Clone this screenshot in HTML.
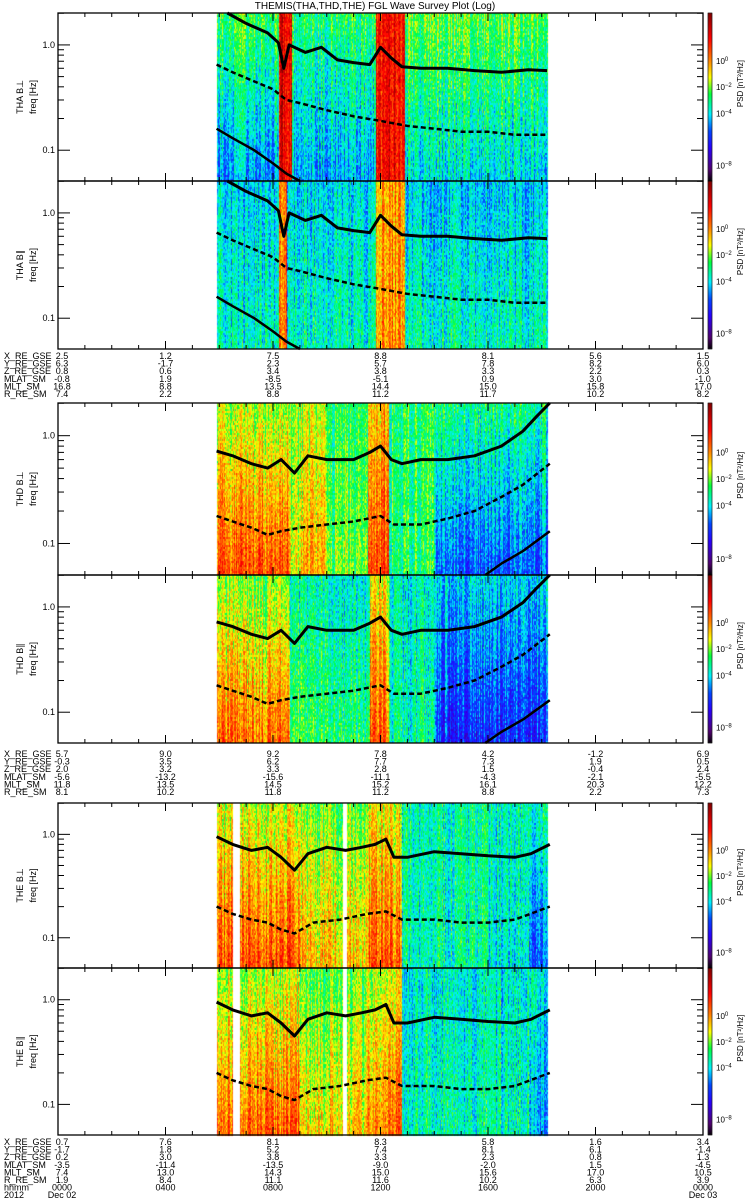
<!DOCTYPE html>
<html><head><meta charset="utf-8">
<style>
html,body{margin:0;padding:0;background:#fff;}
#wrap{position:relative;width:750px;height:1200px;overflow:hidden;}
canvas{position:absolute;left:0;top:0;}
svg{position:absolute;left:0;top:0;}
text{font-family:"Liberation Sans",sans-serif;font-size:9px;fill:#000;}
</style></head>
<body>
<div id="wrap">
<canvas id="spec" width="750" height="1200"></canvas>
<svg id="svg" width="750" height="1200" xmlns="http://www.w3.org/2000/svg">
<text x="375" y="9" text-anchor="middle" style="font-size:10px">THEMIS(THA,THD,THE) FGL Wave Survey Plot (Log)</text>
</svg>
</div>
<script>
// ---- data: spectrogram level segments (hours, level high-freq, level low-freq) ----
const THA_perp_hours=[5.92,8.2,8.7,11.8,12.9];
const THA_perp_hi=[0.52,0.88,0.5,0.85,0.54];
const THA_perp_lo=[0.34,0.88,0.36,0.85,0.4];
const THA_par_hours=[5.92,8.2,8.5,11.8,12.9];
const THA_par_hi=[0.4,0.75,0.4,0.7,0.38];
const THA_par_lo=[0.45,0.75,0.45,0.72,0.45];
const THD_perp_hours=[5.92,8.6,9.0,10.0,11.5,12.3,14.0];
const THD_perp_hi=[0.58,0.55,0.58,0.5,0.68,0.5,0.48];
const THD_perp_lo=[0.78,0.6,0.68,0.55,0.8,0.5,0.3];
const THD_par_hours=[5.92,8.6,10.0,11.6,12.3,14.0];
const THD_par_hi=[0.55,0.45,0.42,0.62,0.42,0.4];
const THD_par_lo=[0.74,0.52,0.5,0.76,0.45,0.25];
const THE_perp_hours=[5.92,9.0,11.5,12.8,16.0,17.5];
const THE_perp_hi=[0.6,0.55,0.62,0.45,0.45,0.45];
const THE_perp_lo=[0.78,0.68,0.76,0.45,0.42,0.3];
const THE_par_hours=[5.92,9.0,11.5,12.8,17.5];
const THE_par_hi=[0.58,0.54,0.6,0.42,0.42];
const THE_par_lo=[0.76,0.66,0.74,0.45,0.35];
const dataStart=5.92, dataEnd=18.23;
const THE_gapStart=[6.5,10.6];
const THE_gapEnd=[6.77,10.72];

// ---- data: characteristic frequency curves (hours, Hz) ----
const THA_solid_t=[6.3,7.0,7.8,8.2,8.4,8.6,9.2,9.8,10.4,11.0,11.6,12.0,12.4,12.8,13.5,14.5,15.5,16.5,17.5,18.2];
const THA_solid_f=[2.1,1.6,1.3,1.05,0.6,1.0,0.85,0.95,0.72,0.68,0.65,0.95,0.75,0.62,0.6,0.6,0.57,0.55,0.58,0.57];
const THA_dash_t=[5.9,6.5,7.3,8.0,8.5,9.0,10.0,11.0,12.0,13.0,14.0,15.0,16.0,17.0,18.2];
const THA_dash_f=[0.65,0.55,0.45,0.38,0.3,0.28,0.24,0.21,0.19,0.17,0.16,0.15,0.15,0.14,0.14];
const THA_low_t=[5.9,6.5,7.3,8.0,8.5,9.0];
const THA_low_f=[0.16,0.13,0.1,0.075,0.06,0.05];
const THD_solid_t=[5.9,6.5,7.2,7.8,8.3,8.8,9.3,10.0,11.0,11.6,12.0,12.4,12.8,13.5,14.5,15.5,16.5,17.3,17.8,18.3];
const THD_solid_f=[0.72,0.65,0.55,0.5,0.6,0.45,0.65,0.6,0.6,0.7,0.8,0.6,0.55,0.6,0.6,0.65,0.8,1.1,1.5,2.1];
const THD_dash_t=[5.9,6.5,7.2,7.8,8.3,9.0,10.0,11.0,12.0,12.5,13.5,14.5,15.5,16.5,17.3,18.3];
const THD_dash_f=[0.18,0.16,0.14,0.12,0.13,0.14,0.15,0.16,0.18,0.15,0.15,0.17,0.2,0.27,0.35,0.55];
const THD_low_t=[15.9,16.5,17.3,18.3];
const THD_low_f=[0.05,0.065,0.085,0.13];
const THE_solid_t=[5.9,6.5,7.2,7.8,8.3,8.8,9.3,10.0,10.7,11.3,11.8,12.2,12.5,13.0,14.0,15.0,16.0,17.0,17.6,18.3];
const THE_solid_f=[0.95,0.8,0.7,0.75,0.6,0.45,0.65,0.75,0.7,0.75,0.8,0.9,0.6,0.6,0.68,0.65,0.62,0.6,0.65,0.8];
const THE_dash_t=[5.9,6.5,7.2,7.8,8.3,8.8,9.5,10.5,11.5,12.2,12.8,14.0,15.0,16.0,17.0,18.3];
const THE_dash_f=[0.2,0.17,0.15,0.14,0.12,0.11,0.14,0.15,0.17,0.18,0.15,0.15,0.14,0.14,0.15,0.2];

// ---- data: orbit text ----
const rowNames=["X_RE_GSE","Y_RE_GSE","Z_RE_GSE","MLAT_SM","MLT_SM","R_RE_SM"];
const THA_rows=[["2.5","1.2","7.5","8.8","8.1","5.6","1.5"],["6.3","-1.7","2.3","5.7","7.8","8.2","6.0"],["0.8","0.6","3.4","3.8","3.3","2.2","0.3"],["-0.8","1.9","-8.5","-5.1","0.9","3.0","-1.0"],["16.8","8.8","13.5","14.4","15.0","15.8","17.0"],["7.4","2.2","8.8","11.2","11.7","10.2","8.2"]];
const THD_rows=[["5.7","9.0","9.2","7.8","4.2","-1.2","6.9"],["-0.3","3.5","6.2","7.7","7.3","1.9","0.5"],["2.0","3.2","3.3","2.8","1.5","-0.4","2.4"],["-5.6","-13.2","-15.6","-11.1","-4.3","-2.1","-5.5"],["11.8","13.5","14.5","15.2","16.1","20.3","12.2"],["8.1","10.2","11.8","11.2","8.8","2.2","7.3"]];
const THE_rows=[["0.7","7.6","8.1","8.3","5.8","1.6","3.4"],["-1.7","1.8","5.2","7.4","8.1","6.1","-1.4"],["0.2","3.0","3.8","3.3","2.3","0.8","1.3"],["-3.5","-11.4","-13.5","-9.0","-2.0","1.5","-4.5"],["7.4","13.0","14.3","15.0","15.6","17.0","10.5"],["1.9","8.4","11.1","11.6","10.2","6.3","3.9"],["0000","0400","0800","1200","1600","2000","0000"]];
const cbExponents=[0,-2,-4,-8];

// ---- layout ----
const X0=58, X1=703, FMAX=2.01, FMIN=0.051;
function xOf(h){return X0+h*(X1-X0)/24;}
function yOf(f,p){return p.top+(Math.log10(FMAX)-Math.log10(f))/(Math.log10(FMAX)-Math.log10(FMIN))*(p.bot-p.top);}
const panels=[
 {label:"THA B⊥",top:13,bot:181,hours:THA_perp_hours,hi:THA_perp_hi,lo:THA_perp_lo,grp:"THA"},
 {label:"THA B∥",top:181,bot:349,hours:THA_par_hours,hi:THA_par_hi,lo:THA_par_lo,grp:"THA"},
 {label:"THD B⊥",top:403,bot:575,hours:THD_perp_hours,hi:THD_perp_hi,lo:THD_perp_lo,grp:"THD"},
 {label:"THD B∥",top:575,bot:743,hours:THD_par_hours,hi:THD_par_hi,lo:THD_par_lo,grp:"THD"},
 {label:"THE B⊥",top:803,bot:968,hours:THE_perp_hours,hi:THE_perp_hi,lo:THE_perp_lo,grp:"THE"},
 {label:"THE B∥",top:968,bot:1135,hours:THE_par_hours,hi:THE_par_hi,lo:THE_par_lo,grp:"THE"}
];
const curves={
 THA:[[THA_solid_t,THA_solid_f,"solid"],[THA_dash_t,THA_dash_f,"dash"],[THA_low_t,THA_low_f,"solid"]],
 THD:[[THD_solid_t,THD_solid_f,"solid"],[THD_dash_t,THD_dash_f,"dash"],[THD_low_t,THD_low_f,"solid"]],
 THE:[[THE_solid_t,THE_solid_f,"solid"],[THE_dash_t,THE_dash_f,"dash"]]
};

const stops=[[0,[0,0,0]],[0.07,[80,0,110]],[0.2,[40,0,255]],[0.3,[0,70,255]],[0.4,[0,240,255]],[0.52,[0,255,60]],[0.62,[255,255,0]],[0.72,[255,130,0]],[0.85,[255,0,0]],[1,[130,0,0]]];
function cmap(v){v=Math.max(0,Math.min(1,v));for(let i=1;i<stops.length;i++){if(v<=stops[i][0]){const a=stops[i-1],b=stops[i],t=(v-a[0])/(b[0]-a[0]);return [0,1,2].map(k=>Math.round(a[1][k]+(b[1][k]-a[1][k])*t));}}return stops[stops.length-1][1];}
function hash(a,b){let h=(a*374761393+b*668265263)|0;h=(h^(h>>>13))*1274126177|0;return ((h^(h>>>16))>>>0)/4294967296;}

const ctx=document.getElementById('spec').getContext('2d');
panels.forEach((p,pi)=>{
  const xs=Math.round(xOf(dataStart)), xe=Math.round(xOf(dataEnd));
  for(let x=xs;x<xe;x++){
    const h=(x-X0)*24/(X1-X0);
    if(p.grp==="THE"){let gap=false;for(let g=0;g<THE_gapStart.length;g++){if(h>=THE_gapStart[g]&&h<=THE_gapEnd[g])gap=true;}if(gap)continue;}
    let s=0;for(let i=0;i<p.hours.length;i++){if(h>=p.hours[i])s=i;}
    const colN=(hash(x,pi*7+1)-0.5)*0.16;
    for(let y=p.top;y<p.bot;y+=2){
      const fr=(y-p.top)/(p.bot-p.top);
      let v=p.hi[s]+(p.lo[s]-p.hi[s])*fr+colN+(hash(x*3+pi,y)-0.5)*0.14;
      const c=cmap(v);
      ctx.fillStyle="rgb("+c[0]+","+c[1]+","+c[2]+")";
      ctx.fillRect(x,y,1,2);
    }
  }
  for(let y=p.top;y<p.bot;y++){const c=cmap(1-(y-p.top)/(p.bot-p.top));ctx.fillStyle="rgb("+c[0]+","+c[1]+","+c[2]+")";ctx.fillRect(708,y,4,1);}
});

const svg=document.getElementById('svg');
const NS="http://www.w3.org/2000/svg";
function mk(tag,attrs,parent){const e=document.createElementNS(NS,tag);for(const k in attrs)e.setAttribute(k,attrs[k]);(parent||svg).appendChild(e);return e;}

panels.forEach((p,pi)=>{
  const g=mk('g',{});
  
  
  curves[p.grp].forEach((cv,ci)=>{
    let d="";
    for(let i=0;i<cv[0].length;i++){const x=xOf(cv[0][i]);let y=yOf(cv[1][i],p);y=Math.max(p.top,Math.min(p.bot,y));d+=(i?"L":"M")+x.toFixed(1)+","+y.toFixed(1);}
    const path=mk('path',{d:d,fill:"none",stroke:"#000","stroke-width":cv[2]==="solid"?(ci===0?3:2.5):2.5,"stroke-dasharray":cv[2]==="dash"?"5 3":"none","stroke-linejoin":"round"},g);
    
    
  });
  const fr=mk('rect',{x:X0,y:p.top,width:X1-X0,height:p.bot-p.top,fill:"none",stroke:"#000","stroke-width":1.3},g);
  
  
  for(let k=0;k<=24;k++){const x=xOf(k);const L=(k%4===0)?8:4;
    mk('line',{x1:x,y1:p.bot,x2:x,y2:p.bot-L,stroke:"#000","stroke-width":1},g);
    mk('line',{x1:x,y1:p.top,x2:x,y2:p.top+L,stroke:"#000","stroke-width":1},g);}
  [0.1,1].forEach(dec=>{for(let m=1;m<=9;m++){const f=dec*m;if(f<FMIN||f>FMAX)continue;const y=yOf(f,p);const L=m===1?12:6;
    mk('line',{x1:X0,y1:y,x2:X0+L,y2:y,stroke:"#000","stroke-width":1},g);
    mk('line',{x1:X1,y1:y,x2:X1-L,y2:y,stroke:"#000","stroke-width":1},g);}
    const t=mk('text',{x:55,y:yOf(dec,p)+3,"text-anchor":"end"},g);t.textContent=dec===1?"1.0":"0.1";
    
    });
  const cy=(p.top+p.bot)/2;
  const t1=mk('text',{x:0,y:0,"text-anchor":"middle",transform:"translate(23,"+cy+") rotate(-90)"},g);t1.textContent=p.label;
  
  
  const t2=mk('text',{x:0,y:0,"text-anchor":"middle",transform:"translate(36,"+cy+") rotate(-90)"},g);t2.textContent="freq [Hz]";
  
  
  const cb=mk('rect',{x:708,y:p.top,width:4,height:p.bot-p.top,fill:"none",stroke:"#000","stroke-width":0.6},g);
  
  
  cbExponents.forEach(e=>{const y=p.top+(3.7-e)/12.9*(p.bot-p.top);
    const t=mk('text',{x:716,y:y+3,style:"font-size:8px"},g);t.textContent="10";
    const s=mk('tspan',{dy:-3,style:"font-size:6px"},t);s.textContent=String(e).replace("-","−");
    
    });
  const pt=mk('text',{x:0,y:0,"text-anchor":"middle",style:"font-size:8px",transform:"translate(743,"+(p.top+0.42*(p.bot-p.top))+") rotate(-90)"},g);
  pt.textContent="PSD [nT²/Hz]";
  
  
});

function textBlock(rows,names,y0,id){
  const g=mk('g',{});
  
  
  rows.forEach((r,ri)=>{const y=y0+ri*7.6;
    const n=mk('text',{x:4,y:y},g);n.textContent=names[ri];
    r.forEach((v,ci)=>{const t=mk('text',{x:ci===0?62:xOf(ci*4),y:y,"text-anchor":"middle"},g);t.textContent=v;});});
}
textBlock(THA_rows,rowNames,359,'tha-orbit-labels');
textBlock(THD_rows,rowNames,757,'thd-orbit-labels');
textBlock(THE_rows,rowNames.concat(["hhmm"]),1145,'the-orbit-labels');
const yl=mk('text',{x:4,y:1145+7*7.6});yl.textContent="2012";


const d1=mk('text',{x:62,y:1145+7*7.6,"text-anchor":"middle"});d1.textContent="Dec 02";


const d2=mk('text',{x:703,y:1145+7*7.6,"text-anchor":"middle"});d2.textContent="Dec 03";


</script>
</body></html>
